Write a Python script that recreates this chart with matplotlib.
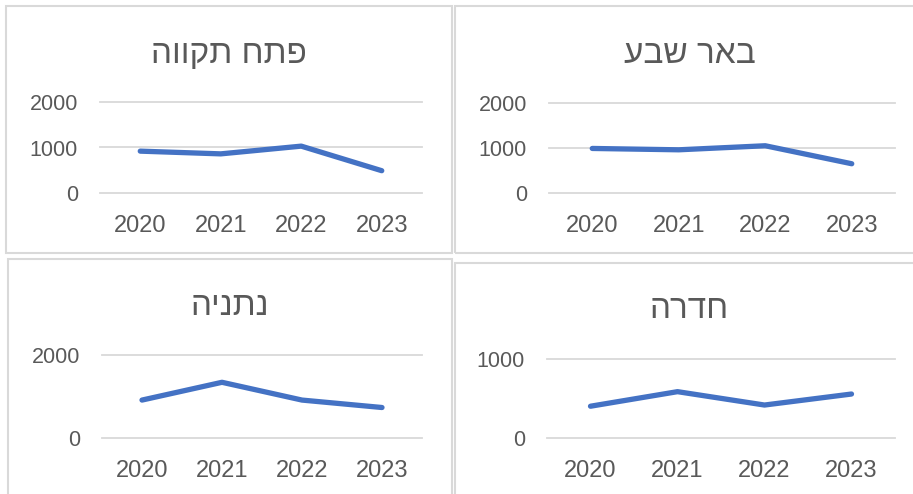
import matplotlib
matplotlib.use('Agg')
from matplotlib import pyplot as plt
from matplotlib.patches import Rectangle

plt.rcParams['font.family'] = ['Liberation Sans', 'DejaVu Sans']

years = ['2020', '2021', '2022', '2023']
cities = ['פתח תקווה', 'באר שבע', 'נתניה', 'חדרה']
ptah_tikva = [920, 860, 1030, 490]
beer_sheva = [990, 960, 1050, 650]
netanya = [910, 1340, 910, 730]
hadera = [400, 585, 415, 555]
series = [ptah_tikva, beer_sheva, netanya, hadera]
y_ticks = [[0, 1000, 2000], [0, 1000, 2000], [0, 2000], [0, 1000]]

W, H = 913, 494
fig = plt.figure(figsize=(W / 100, H / 100), dpi=100)
fig.patch.set_facecolor('white')

text_color = '#595959'
grid_color = '#D9D9D9'
line_color = '#4472C4'

# pixel layout: panel box, axes box, title position
panels = [(6, 6, 452, 253), (455, 6, 930, 253), (8, 259, 452, 510), (455, 263, 930, 510)]
axes_px = [(100, 102, 422, 193), (549, 103, 895, 193), (102, 355, 422, 437.7), (547, 359, 895, 437.7)]
titles_px = [(229, 63), (690, 63), (230, 315), (689, 318)]


def fx(x):
    return x / W


def fy(y):
    return 1 - y / H


for i in range(4):
    x0, y0, x1, y1 = panels[i]
    fig.add_artist(Rectangle((fx(x0), fy(y1)), fx(x1) - fx(x0), fy(y0) - fy(y1),
                             transform=fig.transFigure, fill=False,
                             edgecolor=grid_color, linewidth=1.5))

    ax0, ay0, ax1, ay1 = axes_px[i]
    ax = fig.add_axes([fx(ax0), fy(ay1), fx(ax1) - fx(ax0), fy(ay0) - fy(ay1)])
    ax.set_facecolor('none')
    ticks = y_ticks[i]
    ax.set_ylim(0, ticks[-1])
    ax.set_yticks(ticks)
    ax.set_xlim(-0.5, 3.5)
    ax.set_xticks(range(len(years)))
    ax.set_xticklabels(years)
    for t in ticks:
        ax.axhline(t, color=grid_color, linewidth=1.3, zorder=1, clip_on=False)
    ax.plot(range(len(years)), series[i], color=line_color, linewidth=3.8,
            solid_capstyle='round', solid_joinstyle='round', zorder=3, clip_on=False)
    for s in ax.spines.values():
        s.set_visible(False)
    ax.tick_params(axis='x', length=0, pad=16, labelsize=17, labelcolor=text_color)
    ax.tick_params(axis='y', length=0, pad=16, labelsize=15.5, labelcolor=text_color)

    tx, ty = titles_px[i]
    # matplotlib has no bidi support, so Hebrew is reversed for display
    fig.text(fx(tx), fy(ty), cities[i][::-1], ha='center', va='baseline',
             fontsize=24, color=text_color)

fig.savefig('out.png', dpi=100, facecolor='white')
